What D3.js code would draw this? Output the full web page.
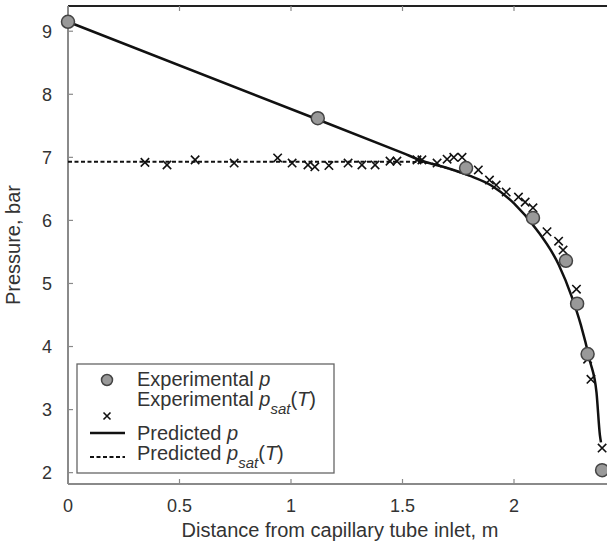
<!DOCTYPE html>
<html>
<head>
<meta charset="utf-8">
<script src="https://cdn.jsdelivr.net/npm/d3@7"></script>
<style>
  body { margin: 0; background: #fff; }
  svg { display: block; font-family: "Liberation Sans", Arial, sans-serif; }
  .tick-label { font-size: 18px; fill: #333; }
  .axis-title { font-size: 20px; fill: #333; }
  .legend text { font-size: 20px; fill: #333; }
</style>
</head>
<body>
<svg id="chart" width="607" height="543"></svg>
<script>
// Capillary tube pressure profile: measured vs predicted p and p_sat(T)

const xTicks = [0, 0.5, 1, 1.5, 2];
const yTicks = [2, 3, 4, 5, 6, 7, 8, 9];

// experimental p (circles)
const expPX = [0, 1.12, 1.785, 2.085, 2.233, 2.283, 2.33, 2.395];
const expPY = [9.15, 7.62, 6.83, 6.04, 5.36, 4.68, 3.88, 2.04];

// experimental p_sat(T) (crosses)
const expSatX = [0.345, 0.444, 0.57, 0.745, 0.94, 1.005, 1.076, 1.107, 1.17, 1.256, 1.318, 1.377,
  1.444, 1.475, 1.565, 1.587, 1.655, 1.70, 1.73, 1.767, 1.84, 1.89, 1.92, 1.965, 2.02, 2.05,
  2.085, 2.148, 2.20, 2.22, 2.28, 2.33, 2.345, 2.395];
const expSatY = [6.92, 6.88, 6.96, 6.91, 6.99, 6.91, 6.88, 6.85, 6.87, 6.91, 6.88, 6.88,
  6.94, 6.94, 6.96, 6.96, 6.91, 6.97, 7.0, 7.0, 6.80, 6.64, 6.56, 6.45, 6.37, 6.29,
  6.2, 5.82, 5.67, 5.53, 4.91, 3.8, 3.48, 2.39];

// predicted p (solid)
const predPX = [0, 1.12, 1.50, 1.60, 1.70, 1.80, 1.90, 2.00, 2.10, 2.20, 2.26, 2.30, 2.34, 2.37, 2.385, 2.39];
const predPY = [9.15, 7.6, 7.07, 6.93, 6.83, 6.71, 6.55, 6.27, 5.86, 5.3, 4.78, 4.34, 3.78, 3.27, 2.6, 2.48];

// predicted p_sat(T) (dashed)
const predSatX = [0, 0.5, 1.0, 1.5, 1.60, 1.70, 1.80];
const predSatY = [6.93, 6.93, 6.93, 6.93, 6.92, 6.83, 6.71];

const svg = d3.select("#chart");
const margin = { left: 68, top: 6, right: 0, bottom: 59 };
const W = 607, H = 543;

const x = d3.scaleLinear().domain([0, 2.417]).range([margin.left, W - margin.right]);
const y = d3.scaleLinear().domain([1.82, 9.4]).range([H - margin.bottom, margin.top]);

const x0 = x.range()[0], x1 = x.range()[1];
const yB = y.range()[0], yT = y.range()[1];

// frame: top line dark, left/bottom gray
svg.append("line").attr("x1", x0).attr("x2", x1).attr("y1", yT).attr("y2", yT)
  .attr("stroke", "#222").attr("stroke-width", 2);
svg.append("line").attr("x1", x0).attr("x2", x0).attr("y1", yT).attr("y2", yB)
  .attr("stroke", "#8a8a8a").attr("stroke-width", 2);
svg.append("line").attr("x1", x0).attr("x2", x1).attr("y1", yB).attr("y2", yB)
  .attr("stroke", "#8a8a8a").attr("stroke-width", 2);

// ticks (inward) and labels
xTicks.forEach((t) => {
  svg.append("line").attr("x1", x(t)).attr("x2", x(t)).attr("y1", yB).attr("y2", yB - 5)
    .attr("stroke", "#8a8a8a").attr("stroke-width", 1.2);
  svg.append("line").attr("x1", x(t)).attr("x2", x(t)).attr("y1", yT).attr("y2", yT + 5)
    .attr("stroke", "#8a8a8a").attr("stroke-width", 1.2);
  svg.append("text").attr("class", "tick-label")
    .attr("x", x(t)).attr("y", yB + 28).attr("text-anchor", "middle").text(t);
});
yTicks.forEach((t) => {
  svg.append("line").attr("x1", x0).attr("x2", x0 + 5).attr("y1", y(t)).attr("y2", y(t))
    .attr("stroke", "#8a8a8a").attr("stroke-width", 1.2);
  svg.append("text").attr("class", "tick-label")
    .attr("x", x0 - 16).attr("y", y(t) + 6.5).attr("text-anchor", "end").text(t);
});

svg.append("text").attr("class", "axis-title")
  .attr("x", 340).attr("y", 537).attr("text-anchor", "middle")
  .text("Distance from capillary tube inlet, m");
svg.append("text").attr("class", "axis-title")
  .attr("transform", `translate(20,${(yT + yB) / 2}) rotate(-90)`)
  .attr("text-anchor", "middle").text("Pressure, bar");

// lines
const line = d3.line().x((d) => x(d[0])).y((d) => y(d[1])).curve(d3.curveMonotoneX);

svg.append("path").datum(d3.zip(predSatX, predSatY)).attr("d", line)
  .attr("fill", "none").attr("stroke", "#111").attr("stroke-width", 2)
  .attr("stroke-dasharray", "4,2.5");
svg.append("path").datum(d3.zip(predPX, predPY)).attr("d", line)
  .attr("fill", "none").attr("stroke", "#111").attr("stroke-width", 2.5);

// crosses
const cross = (g, cx, cy, s) => {
  g.append("path")
    .attr("d", `M${cx - s},${cy - s}L${cx + s},${cy + s}M${cx - s},${cy + s}L${cx + s},${cy - s}`)
    .attr("stroke", "#111").attr("stroke-width", 1.6).attr("fill", "none");
};
const crossG = svg.append("g");
d3.zip(expSatX, expSatY).forEach(([a, b]) => cross(crossG, x(a), y(b), 4.2));

// circles
svg.append("g").selectAll("circle").data(d3.zip(expPX, expPY)).join("circle")
  .attr("cx", (d) => x(d[0])).attr("cy", (d) => y(d[1])).attr("r", 6.5)
  .attr("fill", "#999").attr("stroke", "#444").attr("stroke-width", 1.5);

// legend
const lg = svg.append("g").attr("class", "legend");
lg.append("rect").attr("x", 77).attr("y", 364).attr("width", 257).attr("height", 109)
  .attr("fill", "#fff").attr("stroke", "#666").attr("stroke-width", 1.3);

lg.append("circle").attr("cx", 107).attr("cy", 380).attr("r", 5.5)
  .attr("fill", "#999").attr("stroke", "#444").attr("stroke-width", 1.5);
cross(lg, 107, 416, 3.5);
lg.append("line").attr("x1", 90).attr("x2", 125).attr("y1", 433).attr("y2", 433)
  .attr("stroke", "#111").attr("stroke-width", 2.5);
lg.append("line").attr("x1", 90).attr("x2", 125).attr("y1", 457).attr("y2", 457)
  .attr("stroke", "#111").attr("stroke-width", 2).attr("stroke-dasharray", "4,2.5");

const addLabel = (yy, base, sub) => {
  const t = lg.append("text").attr("x", 137).attr("y", yy);
  t.append("tspan").text(base + " ");
  t.append("tspan").attr("font-style", "italic").text("p");
  if (sub) {
    t.append("tspan").attr("font-style", "italic").attr("font-size", "15px")
      .attr("dy", 8).text("sat");
    t.append("tspan").attr("dy", -8).text("(");
    t.append("tspan").attr("font-style", "italic").text("T");
    t.append("tspan").text(")");
  }
};
addLabel(386, "Experimental", false);
addLabel(406, "Experimental", true);
addLabel(440, "Predicted", false);
addLabel(460, "Predicted", true);
</script>
</body>
</html>
